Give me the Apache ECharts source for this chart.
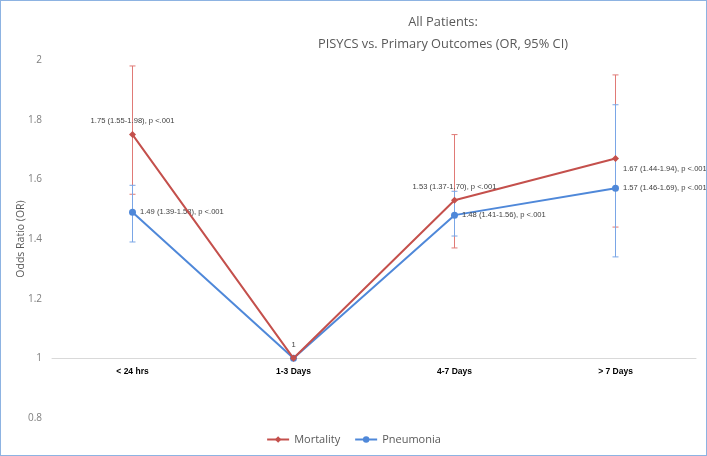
<!DOCTYPE html>
<html>
<head>
<meta charset="utf-8">
<script src="https://cdn.jsdelivr.net/npm/echarts@6/dist/echarts.min.js"></script>
<style>
  html, body { margin: 0; padding: 0; background: #fff; }
  #main { width: 707px; height: 456px; box-sizing: border-box; border: 1px solid #8db3e2; }
</style>
</head>
<body>
<div id="main"></div>
<script>
// chart data
var categories = ['< 24 hrs', '1-3 Days', '4-7 Days', '> 7 Days'];
var mortality = [1.75, 1, 1.53, 1.67];
var pneumonia = [1.49, 1, 1.48, 1.57];
// error bars as drawn [low, high]
var mortalityCI = [[1.55, 1.98], null, [1.37, 1.75], [1.44, 1.95]];
var pneumoniaCI = [[1.39, 1.58], null, [1.41, 1.56], [1.34, 1.85]];
var mortalityLabels = ['1.75 (1.55-1.98), p <.001', '1', '1.53 (1.37-1.70), p <.001', '1.67 (1.44-1.94), p <.001'];
var pneumoniaLabels = ['1.49 (1.39-1.58), p <.001', '', '1.48 (1.41-1.56), p <.001', '1.57 (1.46-1.69), p <.001'];
var yTicks = { min: 0.8, max: 2, interval: 0.2 };

var myChart = echarts.init(document.getElementById('main'));

var RED = '#c4504c', BLUE = '#4f88d9';
var RED_EB = '#e07a76', BLUE_EB = '#7aa6e6';

function ciData(ci) {
    var out = [];
    for (var i = 0; i < ci.length; i++) {
        if (ci[i]) out.push([i, ci[i][0], ci[i][1]]);
    }
    return out;
}

function errorBar(color) {
    return function (params, api) {
        var lo = api.coord([api.value(0), api.value(1)]);
        var hi = api.coord([api.value(0), api.value(2)]);
        var w = 3;
        var style = { stroke: color, lineWidth: 1 };
        return {
            type: 'group',
            children: [
                { type: 'line', shape: { x1: lo[0], y1: lo[1], x2: hi[0], y2: hi[1] }, style: style },
                { type: 'line', shape: { x1: lo[0] - w, y1: lo[1], x2: lo[0] + w, y2: lo[1] }, style: style },
                { type: 'line', shape: { x1: hi[0] - w, y1: hi[1], x2: hi[0] + w, y2: hi[1] }, style: style }
            ]
        };
    };
}

var labelStyle = { color: '#404040', fontSize: 7.6, fontFamily: 'Liberation Sans, Arial, sans-serif' };

// mortality point labels: above, except the last one (right, a little lower)
var mortPos = ['top', 'top', 'top', 'right'];
var mortOffset = [[0, 0], [0, 0], [0, 0], [-2, 10]];
var mortData = mortality.map(function (v, i) {
    return {
        value: v,
        label: Object.assign({ show: true, position: mortPos[i], offset: mortOffset[i], distance: 6,
            formatter: mortalityLabels[i] }, labelStyle)
    };
});
var pneuData = pneumonia.map(function (v, i) {
    return {
        value: v,
        label: Object.assign({ show: pneumoniaLabels[i] !== '', position: 'right', distance: 4,
            formatter: pneumoniaLabels[i] }, labelStyle)
    };
});

var option = {
    animation: false,
    title: [{
        text: 'All Patients:\nPISYCS vs. Primary Outcomes (OR, 95% CI)',
        left: 437, top: 5, textAlign: 'center',
        textStyle: { color: '#595959', fontSize: 12.8, fontWeight: 'normal', lineHeight: 22,
            fontFamily: 'Open Sans, Liberation Sans, sans-serif', align: 'center' }
    }],
    legend: {
        bottom: 5,
        left: 'center',
        itemWidth: 22,
        itemHeight: 8,
        itemGap: 14,
        textStyle: { color: '#595959', fontSize: 11, fontFamily: 'Open Sans, Liberation Sans, sans-serif' },
        data: ['Mortality', 'Pneumonia']
    },
    grid: { left: 51, right: 10, top: 59, bottom: 37, outerBoundsMode: 'none' },
    xAxis: {
        type: 'category',
        data: categories,
        offset: -60,
        axisLine: { lineStyle: { color: '#d9d9d9', width: 1 } },
        axisTick: { show: false },
        axisLabel: { color: '#000', fontSize: 8.5, fontWeight: 'bold', margin: 9,
            fontFamily: 'Liberation Sans, Arial, sans-serif' }
    },
    yAxis: {
        type: 'value',
        min: yTicks.min,
        max: yTicks.max,
        interval: yTicks.interval,
        name: 'Odds Ratio (OR)',
        nameLocation: 'middle',
        nameGap: 25,
        nameMoveOverlap: false,
        nameTextStyle: { color: '#595959', fontSize: 10.5, fontFamily: 'Open Sans, Liberation Sans, sans-serif' },
        axisLine: { show: false },
        axisTick: { show: false },
        splitLine: { show: false },
        axisLabel: { color: '#7f7f7f', fontSize: 10, margin: 10,
            fontFamily: 'Open Sans, Liberation Sans, sans-serif' }
    },
    series: [
        {
            name: 'Mortality CI',
            type: 'custom',
            renderItem: errorBar(RED_EB),
            data: ciData(mortalityCI),
            z: 1
        },
        {
            name: 'Pneumonia CI',
            type: 'custom',
            renderItem: errorBar(BLUE_EB),
            data: ciData(pneumoniaCI),
            z: 2
        },
        {
            name: 'Mortality',
            type: 'line',
            data: mortData,
            symbol: 'diamond',
            symbolSize: 7,
            color: RED,
            lineStyle: { color: RED, width: 2 },
            itemStyle: { color: RED },
            z: 4
        },
        {
            name: 'Pneumonia',
            type: 'line',
            data: pneuData,
            symbol: 'circle',
            symbolSize: 7,
            color: BLUE,
            lineStyle: { color: BLUE, width: 2 },
            itemStyle: { color: BLUE },
            z: 3
        }
    ]
};

myChart.setOption(option);
</script>
</body>
</html>
